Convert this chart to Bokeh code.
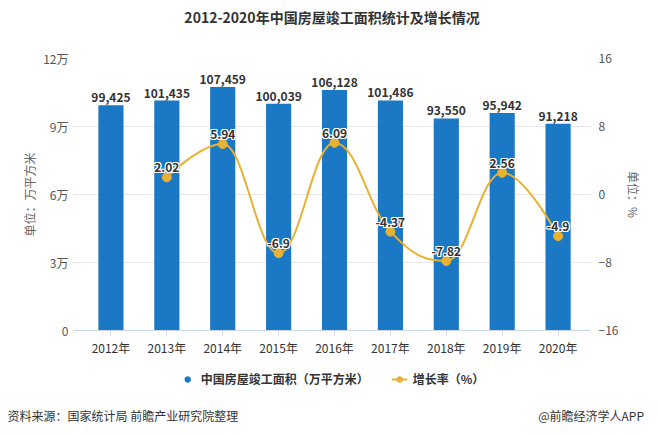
from bokeh.plotting import figure
from bokeh.layouts import column
from bokeh.models import (Range1d, LinearAxis, FixedTicker, Legend, LegendItem,
                          ColumnDataSource, Title)
from bokeh.core.properties import value
from bokeh.embed import file_html
from bokeh.resources import INLINE

# ---------------- data ----------------
years = ["2012年", "2013年", "2014年", "2015年", "2016年", "2017年", "2018年", "2019年", "2020年"]
area = [99425, 101435, 107459, 100039, 106128, 101486, 93550, 95942, 91218]
growth_years = ["2013年", "2014年", "2015年", "2016年", "2017年", "2018年", "2019年", "2020年"]
growth = [2.02, 5.94, -6.9, 6.09, -4.37, -7.82, 2.56, -4.9]
left_ticks = [0, 30000, 60000, 90000, 120000]
left_tick_labels = ["0", "3万", "6万", "9万", "12万"]
right_ticks = [-16, -8, 0, 8, 16]
title_text = "2012-2020年中国房屋竣工面积统计及增长情况"
source_text = "资料来源：国家统计局 前瞻产业研究院整理"
brand_text = "@前瞻经济学人APP"
legend_labels = ["中国房屋竣工面积（万平方米）", "增长率（%）"]

FONT = "Noto Sans CJK SC"
BAR_COLOR = "#1a78c4"
LINE_COLOR = "#e8b131"
TXT = "#333333"

W = 658
HEAD_H, MAIN_H, FOOT_H = 40, 318, 77
BL, BR = 73, 68


def base_fig(h, **kw):
    f = figure(width=W, height=h, output_backend="svg", toolbar_location=None,
               min_border_left=BL, min_border_right=BR, **kw)
    f.outline_line_color = None
    f.background_fill_color = "white"
    f.border_fill_color = "white"
    return f


# ---------------- header (title) ----------------
head = base_fig(HEAD_H, x_axis_location=None, y_axis_location=None,
                x_range=Range1d(0, 1), y_range=Range1d(0, 1),
                min_border_top=0, min_border_bottom=0)
head.grid.grid_line_color = None
head.title.text = title_text
head.title.align = "center"
head.title.text_font = FONT
head.title.text_font_size = "14px"
head.title.text_font_style = "bold"
head.title.text_color = TXT
head.title.standoff = 8

# ---------------- main chart ----------------
p = base_fig(MAIN_H, x_range=Range1d(-0.67, 8.58), y_range=Range1d(0, 120000),
             min_border_top=18, min_border_bottom=MAIN_H - 18 - 272)
p.extra_y_ranges = {"right": Range1d(-16, 16)}

xi = list(range(len(years)))
src = ColumnDataSource(dict(x=xi, top=area, lab=[f"{v:,}" for v in area]))
p.vbar(x="x", top="top", width=0.45, source=src, fill_color=BAR_COLOR, line_color=None)
p.text(x="x", y="top", text="lab", source=src, text_align="center", text_baseline="bottom",
       y_offset=-3, text_font=value(FONT), text_font_style="bold", text_font_size="12px",
       text_color=TXT)

# spline (Highcharts-style control points computed from the data)
gx = [years.index(y) for y in growth_years]
n = len(gx)
smooth = 1.5
den = smooth + 1
lcx = list(map(float, gx)); lcy = list(map(float, growth))
rcx = list(map(float, gx)); rcy = list(map(float, growth))
for i in range(1, n - 1):
    px, py = gx[i], growth[i]
    lx, ly = gx[i - 1], growth[i - 1]
    nx, ny = gx[i + 1], growth[i + 1]
    lX = (smooth * px + lx) / den
    lY = (smooth * py + ly) / den
    rX = (smooth * px + nx) / den
    rY = (smooth * py + ny) / den
    corr = 0.0
    if rX != lX:
        corr = ((rY - lY) * (rX - px)) / (rX - lX) + py - rY
    lY += corr
    rY += corr
    if lY > ly and lY > py:
        lY = max(ly, py); rY = 2 * py - lY
    elif lY < ly and lY < py:
        lY = min(ly, py); rY = 2 * py - lY
    if rY > ny and rY > py:
        rY = max(ny, py); lY = 2 * py - rY
    elif rY < ny and rY < py:
        rY = min(ny, py); lY = 2 * py - rY
    lcx[i], lcy[i], rcx[i], rcy[i] = lX, lY, rX, rY

bsrc = ColumnDataSource(dict(
    x0=gx[:-1], y0=growth[:-1], x1=gx[1:], y1=growth[1:],
    cx0=rcx[:-1], cy0=rcy[:-1], cx1=lcx[1:], cy1=lcy[1:]))
p.bezier(x0="x0", y0="y0", x1="x1", y1="y1", cx0="cx0", cy0="cy0", cx1="cx1", cy1="cy1",
         source=bsrc, line_color=LINE_COLOR, line_width=2, y_range_name="right")
gsrc = ColumnDataSource(dict(x=gx, y=growth, lab=[f"{v:g}" for v in growth]))
p.scatter(x="x", y="y", source=gsrc, size=9, fill_color=LINE_COLOR, line_color=LINE_COLOR,
          y_range_name="right")
for dx, dy in [(-1, 0), (1, 0), (0, -1), (0, 1), (-1, -1), (1, 1), (-1, 1), (1, -1)]:
    p.text(x="x", y="y", text="lab", source=gsrc, y_range_name="right", text_align="center",
           text_baseline="bottom", x_offset=dx, y_offset=-5 + dy, text_font=value(FONT),
           text_font_style="bold", text_font_size="12px", text_color="white")
p.text(x="x", y="y", text="lab", source=gsrc, y_range_name="right", text_align="center",
       text_baseline="bottom", y_offset=-5, text_font=value(FONT), text_font_style="bold",
       text_font_size="12px", text_color=TXT)

# axes
p.xaxis.ticker = FixedTicker(ticks=xi)
p.xaxis.major_label_overrides = {i: y for i, y in enumerate(years)}
p.xaxis.axis_line_color = "#ccd6eb"
p.xaxis.major_tick_line_color = "#ccd6eb"
p.xaxis.major_tick_out = 5
p.xaxis.major_tick_in = 0
p.xaxis.minor_tick_line_color = None
p.xaxis.major_label_standoff = 3
p.xaxis.major_label_text_font = FONT
p.xaxis.major_label_text_font_size = "12px"
p.xaxis.major_label_text_color = TXT
p.xgrid.grid_line_color = None

p.yaxis.ticker = FixedTicker(ticks=left_ticks)
p.yaxis.major_label_overrides = {t: l for t, l in zip(left_ticks, left_tick_labels)}
p.yaxis.axis_line_color = None
p.yaxis.major_tick_line_color = None
p.yaxis.minor_tick_line_color = None
p.yaxis.major_tick_out = 0
p.yaxis.major_tick_in = 0
p.yaxis.minor_tick_out = 0
p.yaxis.major_label_standoff = 5
p.yaxis.major_label_text_font = FONT
p.yaxis.major_label_text_font_size = "12px"
p.yaxis.major_label_text_color = "#555555"
p.yaxis.axis_label = "单位：万平方米"
p.yaxis.axis_label_standoff = 2
p.yaxis.axis_label_text_font = FONT
p.yaxis.axis_label_text_font_size = "12px"
p.yaxis.axis_label_text_font_style = "normal"
p.yaxis.axis_label_text_color = "#666666"
p.ygrid.ticker = FixedTicker(ticks=left_ticks)
p.ygrid.grid_line_color = "#e6e6e6"

ra = LinearAxis(y_range_name="right", ticker=FixedTicker(ticks=right_ticks))
ra.axis_line_color = None
ra.major_tick_line_color = None
ra.minor_tick_line_color = None
ra.major_tick_out = 0
ra.major_tick_in = 0
ra.minor_tick_out = 0
ra.major_label_standoff = 8
ra.major_label_text_font = FONT
ra.major_label_text_font_size = "12px"
ra.major_label_text_color = "#555555"
ra.axis_label = "单位：%"
ra.axis_label_standoff = 4
ra.axis_label_text_font = FONT
ra.axis_label_text_font_size = "12px"
ra.axis_label_text_font_style = "normal"
ra.axis_label_text_color = "#666666"
p.add_layout(ra, "right")

# ---------------- footer: legend + source ----------------
foot = base_fig(FOOT_H, x_axis_location=None, y_axis_location=None,
                x_range=Range1d(0, 1), y_range=Range1d(0, 1),
                min_border_top=0, min_border_bottom=0)
foot.grid.grid_line_color = None
lg_bar = foot.scatter(x=[-10], y=[-10], marker="circle", size=13, fill_color=BAR_COLOR,
                      line_color=BAR_COLOR)
lg_line = foot.line(x=[-10, -9], y=[-10, -10], line_color=LINE_COLOR, line_width=2)
lg_pt = foot.scatter(x=[-10], y=[-10], marker="circle", size=7, fill_color=LINE_COLOR,
                     line_color=LINE_COLOR)
legend = Legend(items=[LegendItem(label=legend_labels[0], renderers=[lg_bar]),
                       LegendItem(label=legend_labels[1], renderers=[lg_line, lg_pt])],
                orientation="horizontal", location="top_center", border_line_color=None,
                background_fill_alpha=0, label_text_font=FONT, label_text_font_style="bold",
                label_text_font_size="12px", label_text_color=TXT, glyph_width=16,
                glyph_height=14, label_height=14, spacing=22, padding=0, margin=12,
                label_standoff=6)
foot.add_layout(legend, "center")

gap = "\u3000" * 25
ft = Title(text=source_text + gap + brand_text, align="left", offset=-66, text_font=FONT,
           text_font_size="12px", text_font_style="normal", text_color=TXT, standoff=24)
foot.add_layout(ft, "below")

layout = column(head, p, foot, spacing=0)
open("out.html", "w").write(file_html(layout, INLINE))
